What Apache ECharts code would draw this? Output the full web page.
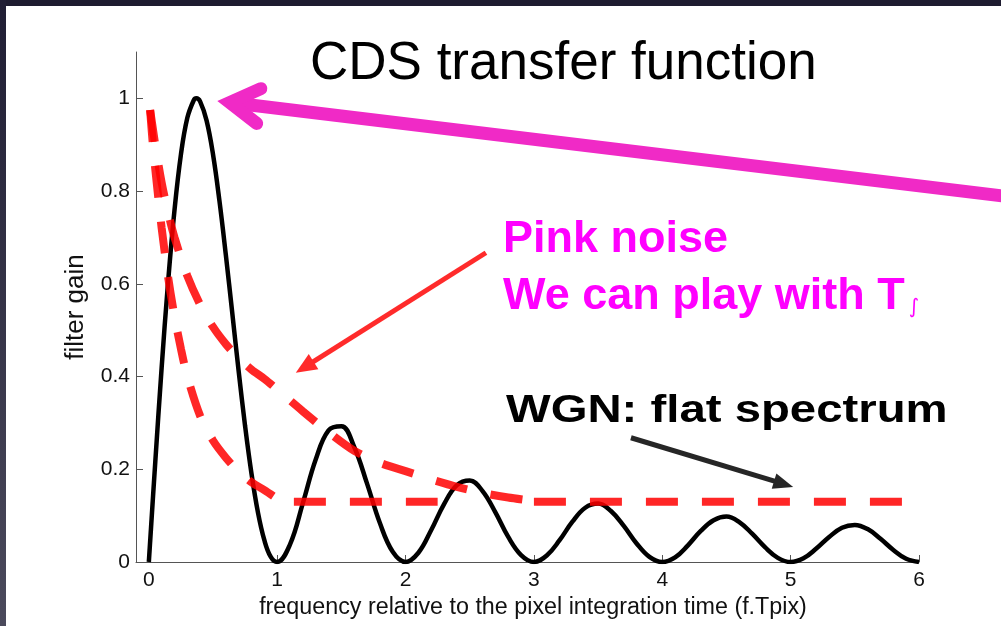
<!DOCTYPE html>
<html><head><meta charset="utf-8">
<script src="https://cdn.jsdelivr.net/npm/echarts@6/dist/echarts.min.js"></script>
<style>html,body{margin:0;padding:0;background:#fff}#c{width:1001px;height:626px}</style>
</head><body><div id="c"></div>
<script>
// ---------- data ----------
const xTicks = [0, 1, 2, 3, 4, 5, 6];
const yTicks = [0, 0.2, 0.4, 0.6, 0.8, 1];

// CDS transfer function (black solid)
const cdsX = [0,0.05,0.1,0.15,0.2,0.25,0.3,0.35,0.37,0.4,0.45,0.5,0.55,0.6,0.65,0.7,0.75,0.8,0.85,0.9,0.95,1.0,
  1.1,1.2,1.3,1.4,1.5,1.6,1.7,1.8,1.9,2.0,2.1,2.2,2.3,2.4,2.5,2.6,2.7,2.8,2.9,3.0,
  3.1,3.2,3.3,3.4,3.5,3.6,3.7,3.8,3.9,4.0,4.1,4.2,4.3,4.4,4.5,4.6,4.7,4.8,4.9,5.0,
  5.1,5.2,5.3,5.4,5.5,5.6,5.7,5.8,5.9,6.0];
const cdsGain = [0,0.215,0.42,0.604,0.759,0.879,0.958,0.996,1.0,0.993,0.952,0.879,0.779,0.662,0.537,0.411,0.293,0.19,0.107,0.047,0.011,0,
  0.038,0.127,0.221,0.284,0.293,0.248,0.169,0.084,0.022,0,0.02,0.069,0.125,0.166,0.176,0.153,0.107,0.054,0.015,0,
  0.014,0.047,0.087,0.117,0.126,0.110,0.078,0.040,0.011,0,0.010,0.036,0.067,0.090,0.098,0.086,0.061,0.032,0.009,0,
  0.008,0.029,0.054,0.074,0.080,0.071,0.050,0.026,0.007,0];

// Pink noise, short integration (red dashed, steep) and its flat tail
const pinkFastX = [0.01,0.03,0.05,0.1,0.15,0.2,0.25,0.3,0.4,0.5,0.6,0.7,0.8,0.9,0.97];
const pinkFastGain = [0.975,0.905,0.848,0.72,0.615,0.53,0.46,0.40,0.315,0.262,0.225,0.195,0.172,0.155,0.142];
const pinkFastTailX = [1.13, 2.25];
const pinkFastTailGain = [0.13, 0.13];

// Pink noise, long integration (red dashed, slow)
const pinkSlowX = [0.01,0.05,0.1,0.15,0.2,0.3,0.4,0.5,0.6,0.7,0.8,0.9,1.0,1.2,1.4,1.6,1.8,2.0,2.2,2.4,2.6,2.8,2.93];
const pinkSlowGain = [0.975,0.90,0.818,0.754,0.70,0.617,0.555,0.507,0.47,0.44,0.415,0.395,0.372,0.325,0.28,0.24,0.214,0.196,0.178,0.162,0.149,0.139,0.134];

// WGN flat level (red dashed)
const wgnX = [3.0, 6.25];
const wgnGain = [0.13, 0.13];

const titleText = 'CDS transfer function';
const xName = 'frequency relative to the pixel integration time (f.Tpix)';
const yName = 'filter gain';
const pinkLine1 = 'Pink noise';
const pinkLine2 = 'We can play with T';
const pinkSub = '\u222B';
const wgnText = 'WGN: flat spectrum';

// annotation anchors (data units)
const pinkArrow = { from: [7.0, 0.778], to: [0.631, 0.991] };
const redArrow = { from: [2.626, 0.667], to: [1.145, 0.408] };
const blackArrow = { from: [3.756, 0.268], to: [5.02, 0.162] };

// ---------- chart ----------
const FONT = '"Liberation Sans", Arial, Helvetica, sans-serif';
const zip = (xs, ys) => xs.map((x, i) => [x, ys[i]]);
const chart = echarts.init(document.getElementById('c'), null, { renderer: 'canvas' });
const RED = 'rgba(255,0,0,0.85)';
const redDash = { color: RED, width: 8, type: [32, 24], cap: 'butt' };

const option = {
  backgroundColor: '#ffffff',
  animation: false,
  grid: { left: 136, right: 82, top: 52, bottom: 64, outerBoundsMode: 'none' },
  xAxis: {
    type: 'value', min: -0.1, max: 6,
    name: xName, nameLocation: 'middle', nameGap: 33,
    nameTextStyle: { fontFamily: FONT, fontSize: 23.3, color: '#111', padding: [0, 0, 0, 11] },
    axisLine: { show: true, onZero: false, lineStyle: { color: '#555', width: 1 } },
    axisTick: { show: true, inside: true, length: 7, customValues: xTicks, lineStyle: { color: '#555' } },
    axisLabel: { customValues: xTicks, fontFamily: FONT, fontSize: 21, color: '#111', margin: 8 },
    splitLine: { show: false }
  },
  yAxis: {
    type: 'value', min: 0, max: 1.1, interval: 0.2,
    name: yName, nameLocation: 'middle', nameGap: 47, nameRotate: 90,
    nameTextStyle: { fontFamily: FONT, fontSize: 26, color: '#111' },
    axisLine: { show: true, onZero: false, lineStyle: { color: '#555', width: 1 } },
    axisTick: { show: true, inside: true, length: 7, customValues: yTicks, lineStyle: { color: '#555' } },
    axisLabel: { customValues: yTicks, fontFamily: FONT, fontSize: 21, color: '#111', margin: 6 },
    splitLine: { show: false }
  },
  series: [
    { type: 'line', data: zip(cdsX, cdsGain), symbol: 'none', smooth: 0.4,
      lineStyle: { color: '#000', width: 4.5 }, z: 2 },
    { type: 'line', data: zip(pinkFastX, pinkFastGain), symbol: 'none', smooth: 0.3, clip: false, lineStyle: redDash, z: 3 },
    { type: 'line', data: zip(pinkFastTailX, pinkFastTailGain), symbol: 'none', clip: false, lineStyle: redDash, z: 3 },
    { type: 'line', data: zip(pinkSlowX, pinkSlowGain), symbol: 'none', smooth: 0.3, clip: false, lineStyle: redDash, z: 3 },
    { type: 'line', data: zip(wgnX, wgnGain), symbol: 'none', clip: false, lineStyle: redDash, z: 3 }
  ]
};
chart.setOption(option);

const px = p => chart.convertToPixel({ gridIndex: 0 }, p);

function filledArrow(a, color, w, hl, hw) {
  const p0 = px(a.from), p1 = px(a.to);
  const dx = p1[0] - p0[0], dy = p1[1] - p0[1], L = Math.hypot(dx, dy);
  const ux = dx / L, uy = dy / L;
  const bx = p1[0] - ux * hl, by = p1[1] - uy * hl;
  return [
    { type: 'line', z: 100, shape: { x1: p0[0], y1: p0[1], x2: bx + ux * 3, y2: by + uy * 3 },
      style: { stroke: color, lineWidth: w, lineCap: 'butt' } },
    { type: 'polygon', z: 100, shape: { points: [[p1[0], p1[1]], [bx - uy * hw, by + ux * hw], [bx + uy * hw, by - ux * hw]] },
      style: { fill: color } }
  ];
}
function openArrow(a, color, w, bl, halfDeg) {
  const p0 = px(a.from), p1 = px(a.to);
  const ang = Math.atan2(p0[1] - p1[1], p0[0] - p1[0]);
  const r = halfDeg * Math.PI / 180;
  const e1 = [p1[0] + bl * Math.cos(ang - r), p1[1] + bl * Math.sin(ang - r)];
  const e2 = [p1[0] + bl * Math.cos(ang + r), p1[1] + bl * Math.sin(ang + r)];
  return [
    { type: 'line', z: 100, shape: { x1: p0[0], y1: p0[1], x2: p1[0] + 4 * Math.cos(ang), y2: p1[1] + 4 * Math.sin(ang) },
      style: { stroke: color, lineWidth: w, lineCap: 'butt' } },
    { type: 'polyline', z: 101, shape: { points: [e1, p1, e2] },
      style: { stroke: color, lineWidth: w, lineCap: 'round', lineJoin: 'miter', fill: null } }
  ];
}

const graphics = [
  { type: 'rect', z: 200, shape: { x: 0, y: 0, width: 1001, height: 6 }, style: { fill: '#1e1c30' } },
  { type: 'rect', z: 200, shape: { x: 0, y: 0, width: 6, height: 626 },
    style: { fill: new echarts.graphic.LinearGradient(0, 0, 0, 1, [{ offset: 0, color: '#201e34' }, { offset: 1, color: '#4b4a5c' }]) } },
  { type: 'text', z: 50, x: 310, y: 83 - 0.3465 * 53,
    style: { text: titleText, font: '53px ' + FONT, fill: '#000', align: 'left', verticalAlign: 'middle' } },
  { type: 'text', z: 50, x: 503, y: 255 - 0.3465 * 45,
    style: { text: pinkLine1, font: 'bold 45px ' + FONT, fill: '#ff00ff', align: 'left', verticalAlign: 'middle' } },
  { type: 'text', z: 50, x: 503, y: 312 - 0.3465 * 45,
    style: { text: pinkLine2, font: 'bold 45px ' + FONT, fill: '#ff00ff', align: 'left', verticalAlign: 'middle' } },
  { type: 'text', z: 50, x: 914, y: 308,
    style: { text: pinkSub, font: '20px "DejaVu Sans", sans-serif', fill: '#ff00ff', align: 'center', verticalAlign: 'middle' } },
  { type: 'text', z: 50, x: 506, y: 425 - 0.3465 * 38, scaleX: 1.245,
    style: { text: wgnText, font: 'bold 38px ' + FONT, fill: '#000', align: 'left', verticalAlign: 'middle' } }
]
  .concat(openArrow(pinkArrow, '#f02ac6', 13, 34, 31))
  .concat(filledArrow(redArrow, '#ff2b2b', 5, 21, 9))
  .concat(filledArrow(blackArrow, '#262626', 5, 20, 8));

chart.setOption({ graphic: { elements: graphics } });
</script>
</body></html>
